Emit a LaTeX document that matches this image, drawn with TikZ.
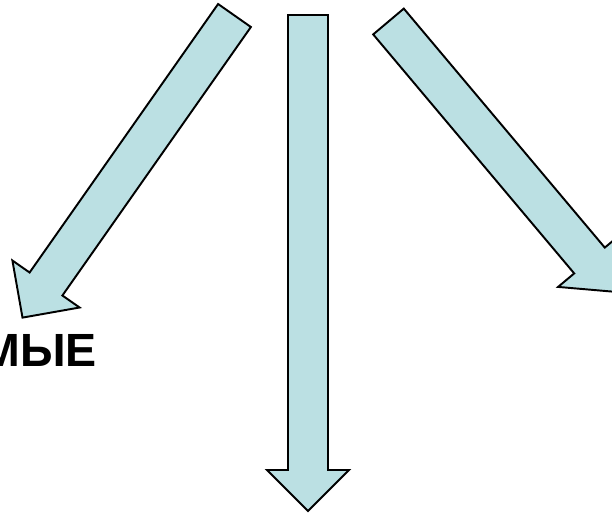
\documentclass[tikz,border=0pt]{standalone}
\usepackage{fontspec}
\setmainfont{Liberation Sans}
\usetikzlibrary{positioning}
\definecolor{arrowfill}{RGB}{187,224,227}

\begin{document}
\begin{tikzpicture}[
  x=0.02cm, y=-0.02cm,
  bigarrow/.style={draw=black, fill=arrowfill, line width=1.1pt, line join=miter},
  caption/.style={font=\fontsize{26.5}{30}\selectfont\bfseries, inner sep=0pt, anchor=base east}
]
  % Slide area (the picture is cut at its edges)
  \useasboundingbox (0,0) rectangle (612,515);
  \clip (0,0) rectangle (612,515);

  % Left arrow, pointing down-left
  \draw[bigarrow] (218.1,4.0) -- (250.9,27.0) -- (62.4,295.5) -- (79.6,307.5)
    -- (22.5,317.6) -- (12.4,260.5) -- (29.6,272.5) -- cycle;

  % Middle arrow, pointing down
  \draw[bigarrow] (288,15) -- (328,15) -- (328,470) -- (349,470)
    -- (308,511) -- (267,470) -- (288,470) -- cycle;

  % Right arrow, pointing down-right
  \draw[bigarrow] (403.8,8.6) -- (373.2,34.4) -- (574.2,273.4) -- (558.1,286.9)
    -- (615.9,291.9) -- (620.9,234.1) -- (604.8,247.6) -- cycle;

  % Label under the left arrow
  \node[caption] (leftlbl) at (97,366) {МЫЕ};
\end{tikzpicture}
\end{document}
